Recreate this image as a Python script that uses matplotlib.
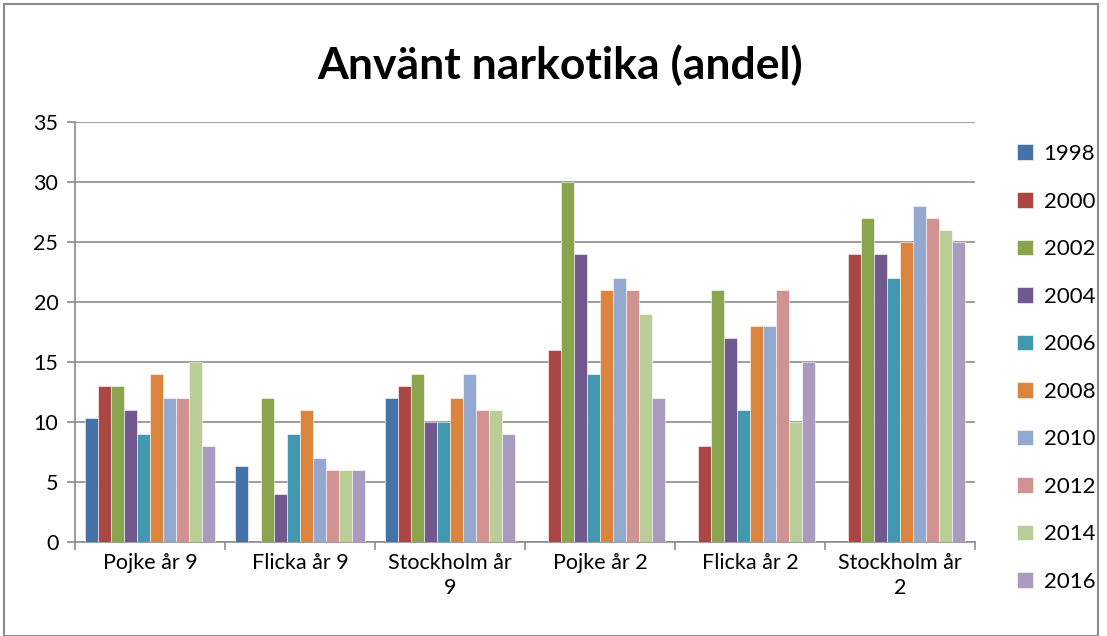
import numpy as np
import matplotlib.pyplot as plt
from matplotlib.patches import Rectangle

plt.rcParams['font.family'] = ['Lato', 'DejaVu Sans']

categories = ['Pojke år 9', 'Flicka år 9', 'Stockholm år\n9',
              'Pojke år 2', 'Flicka år 2', 'Stockholm år\n2']
years = ['1998', '2000', '2002', '2004', '2006', '2008', '2010', '2012', '2014', '2016']

# one list per year, values for the six categories (nan = no bar)
nan = np.nan
v1998 = [10.3, 6.3, 12, nan, nan, nan]
v2000 = [13, nan, 13, 16, 8, 24]
v2002 = [13, 12, 14, 30, 21, 27]
v2004 = [11, 4, 10, 24, 17, 24]
v2006 = [9, 9, 10, 14, 11, 22]
v2008 = [14, 11, 12, 21, 18, 25]
v2010 = [12, 7, 14, 22, 18, 28]
v2012 = [12, 6, 11, 21, 21, 27]
v2014 = [15, 6, 11, 19, 10, 26]
v2016 = [8, 6, 9, 12, 15, 25]
series = [v1998, v2000, v2002, v2004, v2006, v2008, v2010, v2012, v2014, v2016]

colors = ['#4572A7', '#AA4643', '#89A54E', '#71588F', '#4198AF',
          '#DB843D', '#93A9CF', '#D19392', '#B9CD96', '#A99BBD']

fig = plt.figure(figsize=(11.07, 6.36), dpi=100)
ax = fig.add_axes([75 / 1107, 1 - 542 / 636, 900 / 1107, 420 / 636])

x = np.arange(len(categories))
n = len(series)
bw = 1 / (n + 1.6)
for i, (vals, col, yr) in enumerate(zip(series, colors, years)):
    pos = x + (i - (n - 1) / 2) * bw
    ax.bar(pos, vals, width=bw, color=col, edgecolor='white', linewidth=0.4, label=yr, zorder=3)

ax.set_xlim(-0.5, len(categories) - 0.5)
ax.set_ylim(0, 35)
ax.set_yticks(range(0, 36, 5))
ax.yaxis.grid(True, color='#8c8c8c', linewidth=1.2, zorder=0)
ax.set_xticks(x)
ax.set_xticklabels(categories, fontsize=15.5, linespacing=1.3)
ax.set_xticks(np.arange(-0.5, len(categories)), minor=True)
ax.tick_params(axis='x', which='major', length=0, pad=8)
ax.tick_params(axis='x', which='minor', length=6, color='#8c8c8c', width=1.2)
ax.tick_params(axis='y', length=6, color='#8c8c8c', width=1.2, labelsize=15.5, pad=6)
for s in ['top', 'right']:
    ax.spines[s].set_visible(False)
for s in ['left', 'bottom']:
    ax.spines[s].set_color('#8c8c8c')
    ax.spines[s].set_linewidth(1.2)

fig.text(560 / 1107, 1 - 65 / 636, 'Använt narkotika (andel)', ha='center', va='center',
         fontsize=32, fontweight='bold')

handles, labels = ax.get_legend_handles_labels()
fig.legend(handles, labels, loc='upper left', bbox_to_anchor=(997 / 1107, 1 - 124 / 636),
           frameon=False, fontsize=16, handlelength=0.7, handleheight=0.7,
           handletextpad=0.5, labelspacing=1.24)

fig.patches.append(Rectangle((4 / 1107, 0), 1094 / 1107, 1 - 4 / 636, transform=fig.transFigure,
                             fill=False, edgecolor='#8c8c8c', linewidth=1.5))

fig.savefig('out.png', dpi=100)
